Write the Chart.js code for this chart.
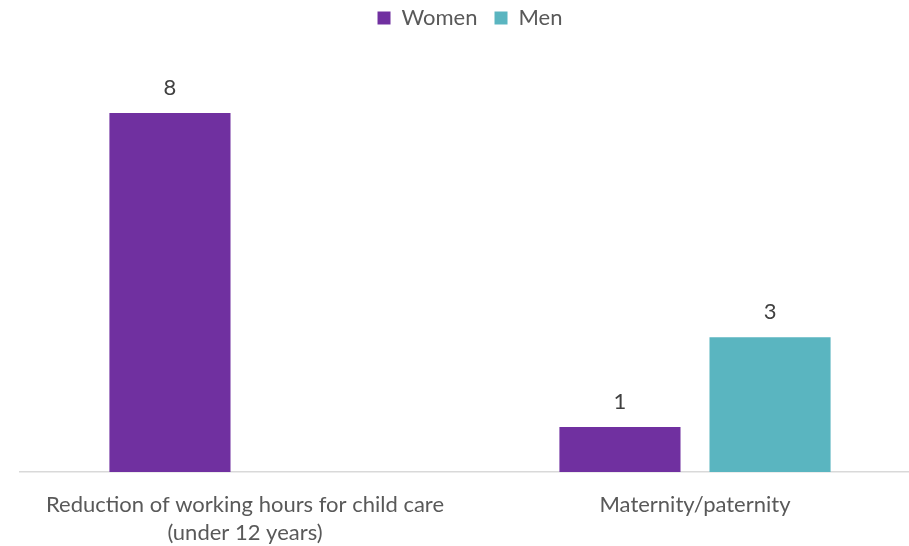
<!DOCTYPE html>
<html>
<head>
<meta charset="utf-8">
<script src="https://cdn.jsdelivr.net/npm/chart.js@4"></script>
<style>
    html, body { margin: 0; padding: 0; background: #fff; overflow: hidden; }
    #wrap { width: 930px; height: 546px; position: relative; }
</style>
</head>
<body>
<div id="wrap"><canvas id="leaveChart"></canvas></div>
<script>
var categories = [
    ['Reduction of working hours for child care', '(under 12 years)'],
    'Maternity/paternity'
];
var women = [8, 1];
var men = [null, 3];

// prints the value above each bar
var valueLabels = {
    id: 'valueLabels',
    afterDatasetsDraw: function (chart) {
        var ctx = chart.ctx;
        ctx.save();
        ctx.font = '22px Lato';
        ctx.fillStyle = '#404040';
        ctx.textAlign = 'center';
        ctx.textBaseline = 'middle';
        chart.data.datasets.forEach(function (ds, i) {
            chart.getDatasetMeta(i).data.forEach(function (bar, j) {
                if (ds.data[j] === null) return;
                ctx.fillText(ds.data[j], bar.x, bar.y - 25);
            });
        });
        ctx.restore();
    }
};

// leaves a gap under the legend so the plot starts lower,
// and nudges the legend row up (wide item spacing adds top padding)
var legendGap = {
    id: 'legendGap',
    afterInit: function (chart) {
        var legend = chart.legend;
        var fit = legend.fit;
        var draw = legend.draw;
        legend.fit = function () {
            fit.call(this);
            this.height = 68;
        };
        legend.draw = function () {
            this.ctx.save();
            this.ctx.translate(0, -10);
            draw.call(this);
            this.ctx.restore();
        };
    }
};

document.addEventListener('DOMContentLoaded', function () {
    var ctx = document.getElementById('leaveChart').getContext('2d');
    new Chart(ctx, {
        type: 'bar',
        data: {
            labels: categories,
            datasets: [
                {
                    label: 'Women',
                    data: women,
                    backgroundColor: '#7030A0',
                    borderWidth: 0
                },
                {
                    label: 'Men',
                    data: men,
                    backgroundColor: '#5AB5C0',
                    borderWidth: 0
                }
            ]
        },
        options: {
            responsive: true,
            maintainAspectRatio: false,
            animation: false,
            layout: {
                padding: { left: 20, right: 10, top: 0, bottom: 0 }
            },
            datasets: {
                bar: {
                    categoryPercentage: 0.667,
                    barPercentage: 0.807
                }
            },
            plugins: {
                legend: {
                    position: 'top',
                    labels: {
                        color: '#595959',
                        font: { family: 'Lato', size: 22 },
                        boxWidth: 13,
                        boxHeight: 13,
                        padding: 17
                    }
                },
                tooltip: { enabled: false }
            },
            scales: {
                x: {
                    grid: { display: false, drawTicks: false },
                    border: { color: '#d9d9d9', width: 1.5 },
                    ticks: {
                        color: '#595959',
                        font: { family: 'Lato', size: 22, lineHeight: 1.27 },
                        padding: 19,
                        maxRotation: 0
                    },
                    afterFit: function (scale) {
                        scale.height = 74; // keeps the baseline at y=472
                    }
                },
                y: {
                    display: false,
                    min: 0,
                    max: 9
                }
            }
        },
        plugins: [valueLabels, legendGap]
    });
});
</script>
</body>
</html>
